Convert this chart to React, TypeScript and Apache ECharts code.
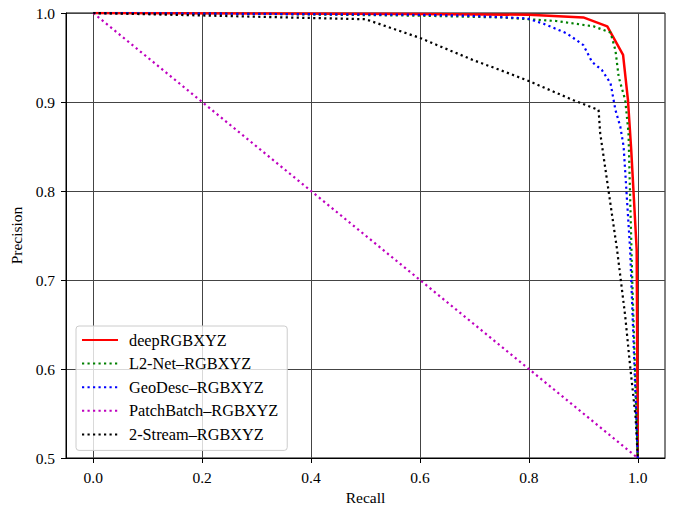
import React, { useEffect, useRef } from "react";
import * as echarts from "echarts";

const xTicks = [0, 0.2, 0.4, 0.6, 0.8, 1.0];
const yTicks = [0.5, 0.6, 0.7, 0.8, 0.9, 1.0];

const deepRecall = [0, 0.3, 0.6, 0.8, 0.9, 0.944, 0.973, 0.982, 0.988, 0.993, 0.998, 1.0];
const deepPrecision = [1, 0.9995, 0.999, 0.998, 0.995, 0.985, 0.953, 0.902, 0.846, 0.79, 0.734, 0.5];

const l2Recall = [0, 0.3, 0.6, 0.75, 0.85, 0.919, 0.95, 0.959, 0.965, 0.977, 0.983, 0.99, 1.0];
const l2Precision = [1, 0.999, 0.997, 0.995, 0.991, 0.985, 0.978, 0.958, 0.928, 0.902, 0.865, 0.697, 0.5];

const geoRecall = [0, 0.3, 0.6, 0.686, 0.796, 0.827, 0.87, 0.9, 0.916, 0.934, 0.95, 0.959, 0.968, 0.974, 0.986, 1.0];
const geoPrecision = [1, 0.999, 0.998, 0.997, 0.994, 0.988, 0.977, 0.964, 0.945, 0.936, 0.921, 0.891, 0.872, 0.85, 0.734, 0.5];

const pbRecall = [0, 1.0];
const pbPrecision = [1, 0.5];

const tsRecall = [0, 0.5, 0.6, 0.698, 0.747, 0.802, 0.882, 0.928, 0.931, 0.962, 0.977, 0.986, 0.996, 1.0];
const tsPrecision = [1, 0.993, 0.972, 0.947, 0.936, 0.923, 0.902, 0.891, 0.865, 0.734, 0.659, 0.603, 0.546, 0.5];

const names = ["deepRGBXYZ", "L2-Net\u2013RGBXYZ", "GeoDesc\u2013RGBXYZ", "PatchBatch\u2013RGBXYZ", "2-Stream\u2013RGBXYZ"];
const colors = ["#ff0000", "#008000", "#0000ff", "#bf00bf", "#000000"];

const FONT = "Liberation Serif";

function zip(xs: number[], ys: number[]) {
  return xs.map((x, i) => [x, ys[i]]);
}

export default function App() {
  const ref = useRef<HTMLDivElement>(null);
  useEffect(() => {
    if (!ref.current) return;
    const chart = echarts.init(ref.current, undefined, { renderer: "svg" });
    const datasets = [
      zip(deepRecall, deepPrecision),
      zip(l2Recall, l2Precision),
      zip(geoRecall, geoPrecision),
      zip(pbRecall, pbPrecision),
      zip(tsRecall, tsPrecision),
    ];
    const series = datasets.map((d, i) => ({
      type: "line",
      name: names[i],
      data: d,
      showSymbol: false,
      symbol: "none",
      lineStyle: {
        color: colors[i],
        width: i === 0 ? 2.5 : 2.2,
        type: i === 0 ? "solid" : [2.2, 3.3],
      },
      itemStyle: { color: colors[i] },
      z: 2 + i,
    }));
    chart.setOption({
      animation: false,
      backgroundColor: "#ffffff",
      textStyle: { fontFamily: FONT },
      grid: {
        left: 66,
        right: 8,
        top: 13,
        bottom: 49,
        outerBoundsMode: "none",
        containLabel: false,
        show: true,
        borderColor: "#000",
        borderWidth: 1,
        backgroundColor: "transparent",
      },
      legend: {
        orient: "vertical",
        left: 76,
        top: 326,
        data: names,
        itemWidth: 36,
        itemHeight: 10,
        itemGap: 7.6,
        padding: [6, 9, 8, 5],
        backgroundColor: "rgba(255,255,255,0.8)",
        borderColor: "#cccccc",
        borderWidth: 1,
        borderRadius: 3,
        itemStyle: { opacity: 0 },
        textStyle: { fontFamily: FONT, fontSize: 16.3, color: "#000", lineHeight: 16, padding: [0, 0, 0, 6] },
      },
      xAxis: {
        type: "value",
        min: -0.05,
        max: 1.05,
        name: "Recall",
        nameLocation: "middle",
        nameGap: 30,
        nameTextStyle: { fontFamily: FONT, fontSize: 15.5, color: "#000" },
        axisLine: { show: true, onZero: false, lineStyle: { color: "#000", width: 1 } },
        axisTick: { show: true, inside: false, length: 5, customValues: xTicks, lineStyle: { color: "#000" } },
        axisLabel: {
          customValues: xTicks,
          margin: 11,
          fontFamily: FONT,
          fontSize: 15.5,
          color: "#000",
          formatter: (v: number) => v.toFixed(1),
        },
        splitLine: { show: true, lineStyle: { color: "#444", width: 1 } },
      },
      yAxis: {
        type: "value",
        min: 0.5,
        max: 1.0,
        interval: 0.1,
        name: "Precision",
        nameLocation: "middle",
        nameGap: 42,
        nameTextStyle: { fontFamily: FONT, fontSize: 15.5, color: "#000" },
        axisLine: { show: true, onZero: false, lineStyle: { color: "#000", width: 1 } },
        axisTick: { show: true, inside: false, length: 5, lineStyle: { color: "#000" } },
        axisLabel: {
          margin: 11,
          fontFamily: FONT,
          fontSize: 15.5,
          color: "#000",
          formatter: (v: number) => v.toFixed(1),
        },
        splitLine: { show: true, lineStyle: { color: "#444", width: 1 } },
      },
      series,
    });
    return () => chart.dispose();
  }, []);
  return <div ref={ref} style={{ position: "absolute", left: 0, top: 0, width: 673, height: 507 }} />;
}
